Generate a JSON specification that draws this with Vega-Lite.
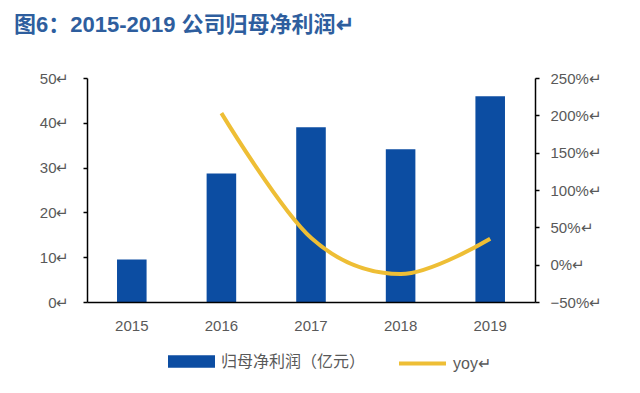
{
  "$schema": "https://vega.github.io/schema/vega-lite/v6.json",
  "width": 448,
  "height": 224,
  "autosize": {"type": "none"},
  "padding": {"left": 87, "right": 105, "top": 78, "bottom": 91},
  "background": "white",
  "config": {
    "font": "Liberation Sans, Noto Sans CJK SC",
    "view": {"stroke": null}
  },
  "title": {
    "text": "图6：2015-2019 公司归母净利润↵",
    "anchor": "start",
    "frame": "group",
    "dx": -73,
    "offset": 34,
    "fontSize": 22,
    "fontWeight": "bold",
    "color": "#2E5E9E",
    "font": "Liberation Sans, Noto Sans CJK SC"
  },
  "data": {
    "values": [
      {"year": "2015", "profit": 9.5, "yoy": null},
      {"year": "2016", "profit": 28.7, "yoy": 2.03},
      {"year": "2017", "profit": 39.0, "yoy": 0.36},
      {"year": "2018", "profit": 34.1, "yoy": -0.126},
      {"year": "2019", "profit": 45.9, "yoy": 0.346}
    ]
  },
  "encoding": {
    "x": {
      "field": "year",
      "type": "nominal",
      "scale": {"paddingInner": 0.67, "paddingOuter": 0.335},
      "axis": {
        "title": null,
        "labelAngle": 0,
        "ticks": false,
        "domainColor": "#000",
        "domainWidth": 1.5,
        "labelColor": "#595959",
        "labelFontSize": 15,
        "labelPadding": 16,
        "zindex": 1
      }
    }
  },
  "layer": [
    {
      "mark": {"type": "bar"},
      "encoding": {
        "y": {
          "field": "profit",
          "type": "quantitative",
          "scale": {"domain": [0, 50], "nice": false},
          "axis": {
            "title": null,
            "values": [0, 10, 20, 30, 40, 50],
            "labelExpr": "datum.label + '↵'",
            "grid": false,
            "ticks": true,
            "tickSize": 4,
            "tickColor": "#000",
            "domainColor": "#000",
            "domainWidth": 1.5,
            "tickWidth": 1.5,
            "labelColor": "#595959",
            "labelFontSize": 15,
            "labelPadding": 14,
            "zindex": 1
          }
        },
        "color": {
          "datum": "归母净利润（亿元）",
          "scale": {"domain": ["归母净利润（亿元）"], "range": ["#0C4DA2"]},
          "legend": {
            "title": null,
            "orient": "none",
            "legendX": 81,
            "legendY": 260,
            "padding": 0,
            "symbolType": "M-1,-0.27H1V0.27H-1Z",
            "symbolSize": 2209,
            "symbolStrokeWidth": 0,
            "labelFontSize": 16,
            "labelColor": "#595959",
            "labelOffset": 6,
            "labelFont": "Noto Sans CJK SC"
          }
        }
      }
    },
    {
      "transform": [{"filter": "datum.yoy != null"}],
      "mark": {"type": "line", "interpolate": "cardinal", "strokeWidth": 4},
      "encoding": {
        "y": {
          "field": "yoy",
          "type": "quantitative",
          "scale": {"domain": [-0.5, 2.5], "nice": false},
          "axis": {
            "title": null,
            "orient": "right",
            "values": [-0.5, 0, 0.5, 1, 1.5, 2, 2.5],
            "format": ".0%",
            "labelExpr": "datum.label + '↵'",
            "grid": false,
            "ticks": true,
            "tickSize": 4,
            "tickColor": "#000",
            "domainColor": "#000",
            "domainWidth": 1.5,
            "tickWidth": 1.5,
            "labelColor": "#595959",
            "labelFontSize": 15,
            "labelPadding": 11,
            "zindex": 1
          }
        },
        "stroke": {
          "datum": "yoy↵",
          "scale": {"domain": ["yoy↵"], "range": ["#EEBE35"]},
          "legend": {
            "title": null,
            "orient": "none",
            "legendX": 310,
            "legendY": 260,
            "padding": 0,
            "symbolType": "stroke",
            "symbolSize": 2209,
            "symbolStrokeWidth": 4,
            "labelFontSize": 16,
            "labelColor": "#595959",
            "labelOffset": 5
          }
        }
      }
    }
  ],
  "resolve": {"scale": {"y": "independent"}}
}
